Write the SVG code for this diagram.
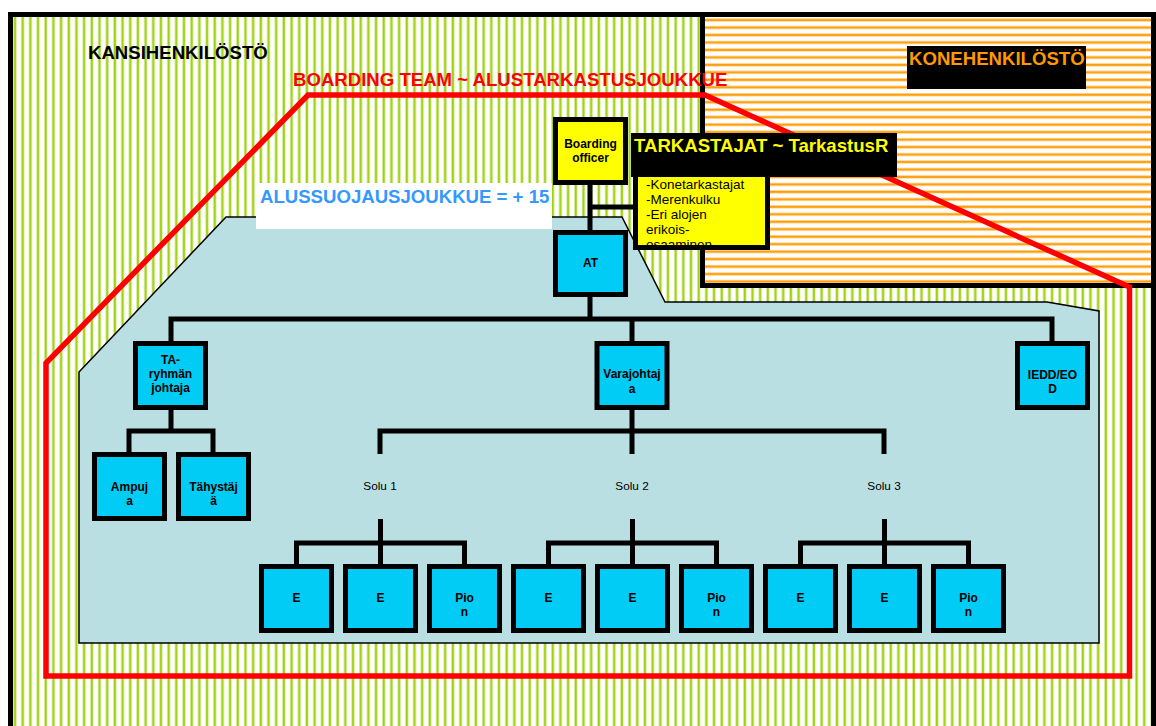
<svg xmlns="http://www.w3.org/2000/svg" width="1156" height="726" viewBox="0 0 1156 726">
<defs>
<pattern id="green" patternUnits="userSpaceOnUse" x="13.2" y="0" width="7.682" height="20">
<rect x="0" y="0" width="3.6" height="20" fill="#dcefa4"/>
<rect x="0.9" y="0" width="1.8" height="20" fill="#9fcf10"/>
</pattern>
<pattern id="orange" patternUnits="userSpaceOnUse" x="0" y="18.3" width="20" height="7.47">
<rect x="0" y="0" width="20" height="3.6" fill="#ffdda0"/>
<rect x="0" y="0.8" width="20" height="1.9" fill="#ff9d0a"/>
</pattern>
<clipPath id="listclip"><rect x="638" y="170" width="127" height="75.5"/></clipPath>
<style>
.box{stroke:#000;stroke-width:5}
.blue{fill:#00ccf5}
.yel{fill:#ffff00}
.lbl{font-family:"Liberation Sans",Arial,sans-serif;font-weight:bold;font-size:12px;text-anchor:middle;fill:#000}
.big{font-family:"Liberation Sans",Arial,sans-serif;font-weight:bold;font-size:18.6px}
.con{fill:none;stroke:#000;stroke-width:5;stroke-linejoin:miter}
</style>
</defs>
<rect width="1156" height="726" fill="#fff"/>
<g id="kansihenkilosto">
<rect x="10.5" y="14.5" width="1143" height="800" fill="url(#green)" stroke="#000" stroke-width="5"/>
<text class="big" x="88" y="59" fill="#000">KANSIHENKILÖSTÖ</text>
</g>
<g id="konehenkilosto">
<rect x="702.5" y="14.5" width="451" height="271" fill="#fff"/>
<rect x="702.5" y="14.5" width="451" height="271" fill="url(#orange)" stroke="#000" stroke-width="5"/>
<rect x="907" y="46" width="179" height="43" fill="#000"/>
<text class="big" x="909" y="65" fill="#ff9900">KONEHENKILÖSTÖ</text>
</g>
<g id="boarding-team">
<polygon points="308,95 705,95 1129.5,287 1129.5,676 46,676 46,363" fill="none" stroke="#ff0000" stroke-width="5.5"/>
<text class="big" x="293" y="86" fill="#ff0000" font-size="18.9">BOARDING TEAM ~ ALUSTARKASTUSJOUKKUE</text>
</g>
<g id="alussuojausjoukkue">
<polygon points="79,372 226,217 622,217 665,302 1047,302 1099,311 1099,643 79,643" fill="#b9dfe3" stroke="#000" stroke-width="1.5"/>
<rect x="256" y="183" width="296" height="46" fill="#fff"/>
<text class="big" x="260" y="203" fill="#3399ff">ALUSSUOJAUSJOUKKUE = + 15</text>
</g>
<g id="connectors">
<path class="con" d="M590,185 V232 M590,207 H636"/>
<path class="con" d="M590,295 V319 M171,343 V319 H1052 V343 M632,319 V343"/>
<path class="con" d="M171,410 V431 M129,454 V431 H213 V454"/>
<path class="con" d="M632,410 V431 M380,454 V431 H884 V454 M632,431 V454"/>
<path class="con" d="M296.5,566 V543 H464.5 V566 M380.5,519 V566"/>
<path class="con" d="M548.5,566 V543 H716.5 V566 M632.5,519 V566"/>
<path class="con" d="M800.5,566 V543 H968.5 V566 M884.5,519 V566"/>
</g>
<g id="list">
<rect class="box yel" x="635.5" y="160" width="132" height="87.5"/>
<g clip-path="url(#listclip)" font-family="Liberation Sans, Arial, sans-serif" font-size="13.5" fill="#000">
<text x="646" y="189">-Konetarkastajat</text>
<text x="646" y="204">-Merenkulku</text>
<text x="646" y="219">-Eri alojen</text>
<text x="646" y="234">erikois-</text>
<text x="646" y="249">osaaminen</text>
</g>
</g>
<g id="tarkastajat">
<rect x="631" y="133" width="266" height="44" fill="#000"/>
<text class="big" x="634" y="152" fill="#ffff00" font-size="19.4">TARKASTAJAT ~ TarkastusR</text>
</g>
<g id="boarding-officer">
<rect class="box yel" x="555.5" y="119.5" width="70" height="63"/>
<text class="lbl" x="590.5" y="148">Boarding</text>
<text class="lbl" x="590.5" y="162">officer</text>
</g>
<g id="at">
<rect class="box blue" x="555.5" y="232.5" width="70" height="62"/>
<text class="lbl" x="590.5" y="267">AT</text>
</g>
<g id="ta-ryhman-johtaja">
<rect class="box blue" x="135.5" y="343.5" width="70" height="64"/>
<text class="lbl" x="170.5" y="364">TA-</text>
<text class="lbl" x="170.5" y="378">ryhmän</text>
<text class="lbl" x="170.5" y="392">johtaja</text>
</g>
<g id="varajohtaja">
<rect class="box blue" x="597" y="343.5" width="70" height="64"/>
<text class="lbl" x="632" y="378">Varajohtaj</text>
<text class="lbl" x="632" y="393">a</text>
</g>
<g id="iedd">
<rect class="box blue" x="1017.5" y="343.5" width="70" height="64"/>
<text class="lbl" x="1052.5" y="379">IEDD/EO</text>
<text class="lbl" x="1052.5" y="393">D</text>
</g>
<g id="ampuja">
<rect class="box blue" x="94.5" y="454.5" width="70" height="64"/>
<text class="lbl" x="129.5" y="490.5">Ampuj</text>
<text class="lbl" x="129.5" y="504.5">a</text>
</g>
<g id="tahystaja">
<rect class="box blue" x="178.5" y="454.5" width="70" height="64"/>
<text class="lbl" x="213.5" y="490.5">Tähystäj</text>
<text class="lbl" x="213.5" y="504.5">ä</text>
</g>
<g id="solu1" font-family="Liberation Sans, Arial, sans-serif" font-size="11.8" text-anchor="middle"><text x="380" y="490">Solu 1</text></g>
<g id="solu2" font-family="Liberation Sans, Arial, sans-serif" font-size="11.8" text-anchor="middle"><text x="632" y="490">Solu 2</text></g>
<g id="solu3" font-family="Liberation Sans, Arial, sans-serif" font-size="11.8" text-anchor="middle"><text x="884" y="490">Solu 3</text></g>
<g id="s1-e1"><rect class="box blue" x="261.5" y="566.5" width="70" height="64"/><text class="lbl" x="296.5" y="602">E</text></g>
<g id="s1-e2"><rect class="box blue" x="345.5" y="566.5" width="70" height="64"/><text class="lbl" x="380.5" y="602">E</text></g>
<g id="s1-pion"><rect class="box blue" x="429.5" y="566.5" width="70" height="64"/><text class="lbl" x="464.5" y="602">Pio</text><text class="lbl" x="464.5" y="616">n</text></g>
<g id="s2-e1"><rect class="box blue" x="513.5" y="566.5" width="70" height="64"/><text class="lbl" x="548.5" y="602">E</text></g>
<g id="s2-e2"><rect class="box blue" x="597.5" y="566.5" width="70" height="64"/><text class="lbl" x="632.5" y="602">E</text></g>
<g id="s2-pion"><rect class="box blue" x="681.5" y="566.5" width="70" height="64"/><text class="lbl" x="716.5" y="602">Pio</text><text class="lbl" x="716.5" y="616">n</text></g>
<g id="s3-e1"><rect class="box blue" x="765.5" y="566.5" width="70" height="64"/><text class="lbl" x="800.5" y="602">E</text></g>
<g id="s3-e2"><rect class="box blue" x="849.5" y="566.5" width="70" height="64"/><text class="lbl" x="884.5" y="602">E</text></g>
<g id="s3-pion"><rect class="box blue" x="933.5" y="566.5" width="70" height="64"/><text class="lbl" x="968.5" y="602">Pio</text><text class="lbl" x="968.5" y="616">n</text></g>
</svg>
